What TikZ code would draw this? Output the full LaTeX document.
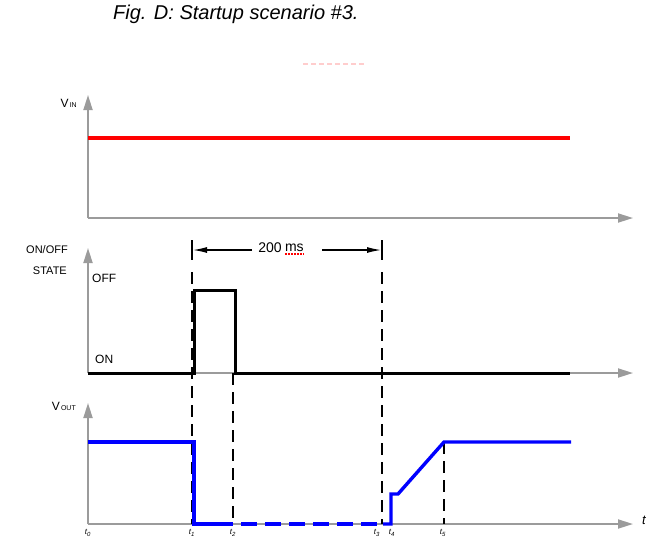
\documentclass[tikz,border=0pt]{standalone}
\usepackage{fontspec}
\setmainfont{Liberation Sans}
\usepackage{tikz}
\usetikzlibrary{positioning, arrows.meta}
\definecolor{axisgray}{RGB}{155,155,155}
\definecolor{vinred}{RGB}{255,0,0}
\definecolor{voutblue}{RGB}{0,0,255}
\definecolor{spellpink}{RGB}{255,205,205}

\begin{document}
\begin{tikzpicture}[x=1pt,y=-1pt,
    axis/.style={draw=axisgray,line width=1.8pt,-{Triangle[length=15pt,width=9pt]}},
    marker/.style={draw,line width=1.6pt,dash pattern=on 12pt off 7pt},
    lbl/.style={inner sep=0pt,font=\fontsize{12}{12}\selectfont},
    ticklbl/.style={inner sep=0pt,font=\fontsize{8}{8}\selectfont\itshape},
    dimtip/.style={line width=1.2pt,-{Latex[length=14pt,width=6pt]}},
    sig/.style={line width=3.4pt,line join=miter},
    statesig/.style={draw=black,line width=3pt,line join=miter}]
  \useasboundingbox (0,0) rectangle (655,542);

  % title
  \node[anchor=west,inner sep=0pt,font=\fontsize{20}{20}\selectfont\itshape] (title) at (113,14) {Fig. D: Startup scenario \#3.};
  \draw[spellpink,line width=1.5pt,dash pattern=on 5pt off 3pt] (303,64) -- (364,64);

  % axes of the three panels
  \foreach \y/\top in {218/95,373/248,524/403}{
    \draw[axis] (88,\y) -- (88,\top);
    \draw[axis] (88,\y) -- (633,\y);
  }

  % axis labels
  \node[lbl,anchor=base east] (vin) at (77,107) {V{\fontsize{7}{7}\selectfont\,IN}};
  \node[lbl,font=\fontsize{11}{11}\selectfont,anchor=base east] (onoff) at (68,253) {ON/OFF};
  \node[lbl,font=\fontsize{11}{11}\selectfont,anchor=base east] (state) at (67,274) {STATE};
  \node[lbl,anchor=base west] (off) at (92,282) {OFF};
  \node[lbl,anchor=base west] (on) at (95,363) {ON};
  \node[lbl,anchor=base east] (vout) at (76,410) {V{\fontsize{7}{7}\selectfont\,OUT}};
  \node[lbl,font=\fontsize{13}{13}\selectfont\itshape] (tlbl) at (644,520) {t};

  % time markers
  \draw[marker] (192,272) -- (192,524);
  \draw[marker] (233,373) -- (233,524);
  \draw[marker] (382,272) -- (382,524);
  \draw[marker] (444,442) -- (444,524);
  \foreach \x/\i in {88/0,192/1,233/2,377/3,392/4,443/5}
    \node[ticklbl] (t\i) at (\x,533) {t\textsubscript{\i}};

  % 200 ms interval
  \node[inner sep=0pt,font=\fontsize{14}{14}\selectfont] (dimval) at (270,248) {200};
  \node[inner sep=0pt,font=\fontsize{14}{14}\selectfont,right=3pt of dimval] (dimunit) {ms};
  \draw[red,line width=1.2pt,dash pattern=on 2pt off 1pt] ([yshift=-2pt]dimunit.south west) -- ([yshift=-2pt]dimunit.south east);
  \draw[line width=1.2pt] (192,240) -- (192,260);
  \draw[line width=1.2pt] (382,240) -- (382,260);
  \draw[dimtip] (252,250) -- (193,250);
  \draw[dimtip] (322,250) -- (381,250);

  % signals
  \draw[vinred,sig] (88,138) -- (570,138);
  \draw[statesig] (88,373) -- (194,373) -- (194,290) -- (235,290) -- (235,373) -- (570,373);
  \draw[voutblue,sig] (88,442) -- (194,442) -- (194,524) -- (233,524);
  \draw[voutblue,sig,dash pattern=on 16pt off 8pt,dash phase=16pt] (233,524) -- (377,524);
  \draw[voutblue,sig] (383,524) -- (391,524) -- (391,494) -- (398,494) -- (444,442) -- (571,442);
\end{tikzpicture}
\end{document}
